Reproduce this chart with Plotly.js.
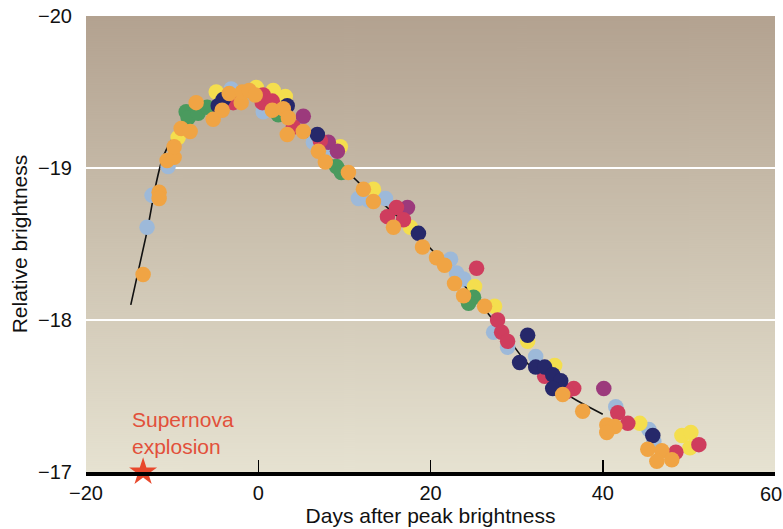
<!DOCTYPE html>
<html>
<head>
<meta charset="utf-8">
<script src="https://cdn.plot.ly/plotly-3.0.1.min.js"></script>
<style>html,body{margin:0;padding:0;background:#fff;}#chart{width:783px;height:529px;}</style>
</head>
<body>
<div id="chart"></div>
<script>
// ---- data (days after peak, relative brightness) ----
const curveDays = [-14.8, -13, -11, -9, -7, -5, -3, -1, 1, 3, 5, 7, 9, 11, 13, 15, 17, 19, 21, 23, 25, 27, 29, 31, 33, 35, 37, 40];
const curveMags = [-18.10, -18.56, -19.08, -19.27, -19.38, -19.44, -19.47, -19.47, -19.43, -19.35, -19.24, -19.13, -19.03, -18.94, -18.83, -18.74, -18.64, -18.53, -18.41, -18.28, -18.16, -18.02, -17.88, -17.73, -17.62, -17.54, -17.47, -17.38];

const blueDays = [-12.91, -12.33, -10.47, -3.14, 0.58, 6.40, 8.14, 11.63, 12.79, 14.77, 22.33, 23.02, 23.84, 27.33, 28.95, 32.21, 41.51, 45.35, 45.93];
const blueMags = [-18.61, -18.82, -19.01, -19.52, -19.37, -19.17, -19.11, -18.80, -18.79, -18.80, -18.40, -18.31, -18.27, -17.92, -17.82, -17.76, -17.43, -17.28, -17.20];

const yellowDays = [-9.30, -4.88, -0.23, 1.74, 3.14, 9.53, 13.37, 17.67, 25.12, 27.44, 31.28, 34.42, 44.30, 49.19, 50.23, 50.12];
const yellowMags = [-19.20, -19.50, -19.53, -19.51, -19.47, -19.14, -18.86, -18.61, -18.22, -18.09, -17.86, -17.70, -17.32, -17.24, -17.26, -17.16];

const greenDays = [-8.37, -8.14, -6.98, -5.93, 2.33, 9.07, 9.65, 25.00, 24.42];
const greenMags = [-19.37, -19.33, -19.36, -19.40, -19.35, -19.01, -18.97, -18.15, -18.11];

const purpleDays = [5.23, 8.14, 9.19, 17.33, 40.12];
const purpleMags = [-19.34, -19.17, -19.11, -18.74, -17.55];

const redDays = [-2.91, 0.58, 0.47, 1.63, 4.07, 7.21, 16.05, 15.00, 16.86, 25.35, 27.79, 28.26, 28.95, 33.26, 36.63, 35.81, 41.74, 42.91, 48.49, 51.16];
const redMags = [-19.43, -19.48, -19.43, -19.44, -19.27, -19.18, -18.74, -18.68, -18.66, -18.34, -18.00, -17.92, -17.86, -17.63, -17.55, -17.53, -17.39, -17.32, -17.13, -17.18];

const navyDays = [-4.65, -4.07, 3.37, 6.86, 18.60, 31.28, 30.35, 32.21, 33.26, 34.19, 35.12, 34.19, 45.81];
const navyMags = [-19.41, -19.45, -19.41, -19.22, -18.57, -17.90, -17.72, -17.69, -17.69, -17.64, -17.60, -17.55, -17.24];

const orangeDays = [-13.37, -11.51, -11.51, -10.58, -9.77, -9.77, -8.95, -7.91, -7.21, -5.23, -4.19, -3.37, -1.98, -1.86, -1.05, -0.35, 1.63, 2.91, 3.49, 3.37, 5.23, 6.98, 7.79, 10.47, 12.21, 13.37, 15.70, 19.07, 20.70, 21.63, 22.79, 23.84, 26.28, 35.35, 37.67, 40.47, 41.40, 40.47, 45.23, 46.86, 46.28, 48.02];
const orangeMags = [-18.30, -18.84, -18.80, -19.05, -19.07, -19.14, -19.26, -19.24, -19.43, -19.32, -19.38, -19.49, -19.43, -19.50, -19.51, -19.48, -19.38, -19.39, -19.33, -19.22, -19.24, -19.11, -19.04, -18.97, -18.86, -18.78, -18.61, -18.48, -18.41, -18.36, -18.24, -18.16, -18.09, -17.51, -17.40, -17.31, -17.30, -17.26, -17.15, -17.14, -17.07, -17.08];

const explosionDay = [-13.37];
const explosionMag = [-17];

const xTicks = [-20, 0, 20, 40, 60];
const xTickText = ['\u221220', '0', '20', '40', '60'];
const yTicks = [-20, -19, -18, -17];

// ---- styling ----
const FONT = 'Liberation Sans, Arial, Helvetica, sans-serif';
const SIZE = 20;
const TSIZE = 21;

function dots(xs, ys, color) {
  return {x: xs, y: ys, type: 'scatter', mode: 'markers', cliponaxis: false,
          marker: {color: color, size: 15.5, line: {width: 0}}, hoverinfo: 'skip'};
}

const traces = [
  {x: curveDays, y: curveMags, type: 'scatter', mode: 'lines',
   line: {color: '#111', width: 1.6, shape: 'spline', smoothing: 1}, hoverinfo: 'skip'},
  dots(blueDays, blueMags, '#9DB9D9'),
  dots(yellowDays, yellowMags, '#F4DE4E'),
  dots(greenDays, greenMags, '#4A9A5E'),
  dots(purpleDays, purpleMags, '#9C3A7C'),
  dots(redDays, redMags, '#CF3D5E'),
  dots(navyDays, navyMags, '#26286A'),
  dots(orangeDays, orangeMags, '#F0A444'),
  {x: explosionDay, y: explosionMag, type: 'scatter', mode: 'markers', cliponaxis: false,
   marker: {symbol: 'star', color: '#E8482C', size: 21, line: {width: 0}}, hoverinfo: 'skip'}
];

// background gradient as an image
const cv = document.createElement('canvas');
cv.width = 4; cv.height = 456;
const ctx = cv.getContext('2d');
const grd = ctx.createLinearGradient(0, 0, 0, 456);
grd.addColorStop(0, '#B3A290');
grd.addColorStop(0.5, '#CCC2B0');
grd.addColorStop(1, '#E6E2D1');
ctx.fillStyle = grd;
ctx.fillRect(0, 0, 4, 456);
const bgURL = cv.toDataURL('image/png');

// last tick label is drawn as an annotation so it stays inside the page
const lastIdx = xTicks.length - 1;
const shownText = xTickText.map((t, i) => i === lastIdx ? '' : t);

const layout = {
  width: 783, height: 529,
  margin: {l: 86, r: 8, t: 16, b: 57},
  paper_bgcolor: '#ffffff',
  plot_bgcolor: 'rgba(0,0,0,0)',
  showlegend: false,
  hovermode: false,
  font: {family: FONT, size: SIZE, color: '#111'},
  images: [{source: bgURL, xref: 'paper', yref: 'paper', x: 0, y: 1, sizex: 1, sizey: 1,
            sizing: 'stretch', layer: 'below'}],
  xaxis: {
    range: [-20, 60], tickvals: xTicks, ticktext: shownText, showgrid: false, zeroline: false,
    showline: true, linecolor: '#000', linewidth: 4,
    ticks: 'inside', ticklen: 12, tickwidth: 1.5, tickcolor: '#000',
    tickfont: {family: FONT, size: SIZE, color: '#111'},
    title: {text: 'Days after peak brightness', font: {family: FONT, size: TSIZE, color: '#111'}, standoff: 3}
  },
  yaxis: {
    range: [-17, -20], tickvals: yTicks, showgrid: true, gridcolor: '#ffffff', gridwidth: 2,
    zeroline: false, showline: false,
    ticks: 'outside', ticklen: 9, tickcolor: 'rgba(0,0,0,0)',
    tickfont: {family: FONT, size: SIZE, color: '#111'},
    title: {text: 'Relative brightness', font: {family: FONT, size: TSIZE, color: '#111'}, standoff: 4}
  },
  annotations: [{
    x: -14.9, y: -17.08, xref: 'x', yref: 'y', xanchor: 'left', yanchor: 'bottom',
    text: 'Supernova<br>explosion', align: 'left', showarrow: false,
    font: {family: FONT, size: TSIZE, color: '#E2503A'}
  }, {
    x: xTicks[lastIdx], y: 0, xref: 'x', yref: 'paper', xanchor: 'right', yanchor: 'middle',
    xshift: 9, yshift: -22, text: xTickText[lastIdx], showarrow: false,
    font: {family: FONT, size: SIZE, color: '#111'}
  }]
};

Plotly.newPlot('chart', traces, layout, {staticPlot: true, displayModeBar: false});
</script>
</body>
</html>
